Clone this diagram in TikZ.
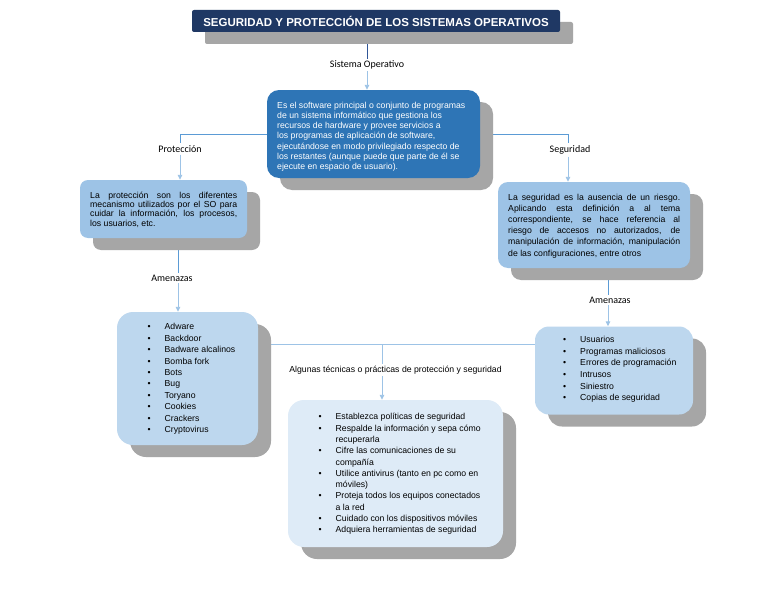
\documentclass[tikz,border=0pt]{standalone}
\usepackage{fontspec}
\setmainfont{Liberation Sans}
\newfontfamily\lblfont{Carlito}
\usetikzlibrary{arrows.meta,shadows,backgrounds}
\definecolor{navy}{HTML}{1F3864}
\definecolor{mainblue}{HTML}{2E75B6}
\definecolor{midblue}{HTML}{9DC3E6}
\definecolor{paleblue}{HTML}{BDD7EE}
\definecolor{palerblue}{HTML}{DEEBF7}
\definecolor{shadowgray}{HTML}{A6A6A6}
\definecolor{linedark}{HTML}{2F5597}
\definecolor{linemid}{HTML}{5B9BD5}
\definecolor{linelight}{HTML}{9DC3E6}
\newcommand\bl{\makebox[17pt][l]{\textbullet}}
\newcommand\ind{\hspace*{17pt}}
\begin{document}
\begin{tikzpicture}[x=1pt,y=-1pt,
  shadowed/.style={drop shadow={shadow xshift=13pt, shadow yshift=-12pt, fill=shadowgray, opacity=1}},
  boxshape/.style={inner sep=0pt, shadowed},
  titlebox/.style={boxshape, fill=navy, text=white, rounded corners=2pt,
     font=\bfseries\fontsize{11.5}{13}\selectfont},
  lbl/.style={font=\lblfont\fontsize{10}{12}\selectfont, inner sep=2pt},
  body/.style={inner sep=0pt, anchor=north west},
  conn/.style={line width=0.9pt},
  arr/.style={line width=0.9pt, draw=linelight, -{Triangle[length=5pt,width=4.5pt]}}
]
% nodes
\node[titlebox, minimum width=368pt, minimum height=22pt] (title) at (376,21)
  {SEGURIDAD Y PROTECCIÓN DE LOS SISTEMAS OPERATIVOS};
\node[lbl] (so) at (367,65) {Sistema Operativo};
\node[boxshape, fill=mainblue, rounded corners=12pt, minimum width=213pt, minimum height=88pt] (main) at (373.5,134) {};
\node[body, text=white, align=left, font=\fontsize{8.7}{10.3}\selectfont] (maintext) at (277,101.5)
  {Es el software principal o conjunto de programas\\
   de un sistema informático que gestiona los\\
   recursos de hardware y provee servicios a\\
   los programas de aplicación de software,\\
   ejecutándose en modo privilegiado respecto de\\
   los restantes (aunque puede que parte de él se\\
   ejecute en espacio de usuario).};

\node[lbl] (prot) at (180,149) {Protección};
\node[boxshape, fill=midblue, rounded corners=8pt, minimum width=167pt, minimum height=58pt] (protbox) at (163.5,209) {};
\node[body, text width=147pt, align=justify, font=\fontsize{8.7}{9.4}\selectfont] (prottext) at (90,191.5)
  {La protección son los diferentes\linebreak mecanismo utilizados por el SO para\linebreak cuidar la información, los procesos,\linebreak los usuarios, etc.};

\node[lbl] (seg) at (570,150) {Seguridad};
\node[boxshape, fill=midblue, rounded corners=10pt, minimum width=192pt, minimum height=86pt] (segbox) at (594,225) {};
\node[body, text width=172pt, align=justify, font=\fontsize{8.7}{11.1}\selectfont] (segtext) at (508,194)
  {La seguridad es la ausencia de un riesgo.\linebreak Aplicando esta definición a al tema\linebreak correspondiente, se hace referencia al\linebreak riesgo de accesos no autorizados, de\linebreak manipulación de información, manipulación\linebreak de las configuraciones, entre otros};

\coordinate (cs) at (568,150);
\coordinate (cl) at (178,250);
\coordinate (cr) at (608,280);
\coordinate (h) at (382,344);

\node[lbl] (amen1) at (172,278) {Amenazas};
\node[boxshape, fill=paleblue, rounded corners=16pt, minimum width=141pt, minimum height=133pt] (list1) at (187.5,378.5) {};
\node[body, align=left, font=\fontsize{8.7}{11.44}\selectfont] (list1text) at (147.5,323.2)
  {\bl Adware\\ \bl Backdoor\\ \bl Badware alcalinos\\ \bl Bomba fork\\ \bl Bots\\
   \bl Bug\\ \bl Toryano\\ \bl Cookies\\ \bl Crackers\\ \bl Cryptovirus};

\node[lbl] (amen2) at (610,300) {Amenazas};
\node[boxshape, fill=paleblue, rounded corners=14pt, minimum width=158pt, minimum height=88pt] (list2) at (614,370.5) {};
\node[body, align=left, font=\fontsize{8.7}{11.6}\selectfont] (list2text) at (563,336.2)
  {\bl Usuarios\\ \bl Programas maliciosos\\ \bl Errores de programación\\ \bl Intrusos\\
   \bl Siniestro\\ \bl Copias de seguridad};

\node[inner sep=2pt, font=\fontsize{8.7}{10}\selectfont] (tec) at (395.5,370)
  {Algunas técnicas o prácticas de protección y seguridad};
\node[boxshape, fill=palerblue, rounded corners=16pt, minimum width=215pt, minimum height=147pt] (list3) at (395.5,473.5) {};
\node[body, align=left, font=\fontsize{8.7}{11.3}\selectfont] (list3text) at (318.5,413.2)
  {\bl Establezca políticas de seguridad\\
   \bl Respalde la información y sepa cómo\\ \ind recuperarla\\
   \bl Cifre las comunicaciones de su\\ \ind compañía\\
   \bl Utilice antivirus (tanto en pc como en\\ \ind móviles)\\
   \bl Proteja todos los equipos conectados\\ \ind a la red\\
   \bl Cuidado con los dispositivos móviles\\
   \bl Adquiera herramientas de seguridad};

% connectors
\begin{pgfonlayer}{background}
\fill[white] (0,0) rectangle (768,594);
\useasboundingbox (0,0) rectangle (768,594);
\draw[conn, draw=linedark] (title.south -| so) -- (so.north);
\draw[arr] (so.south) -- (so.south |- main.north);
\draw[conn, draw=linemid] (main.west) -| (prot.north);
\draw[arr] (prot.south) -- (prot.south |- protbox.north);
\draw[conn, draw=linemid] (main.east) -| (seg.north -| cs);
\draw[arr] (seg.south -| cs) -- (cs |- segbox.north);
\draw[conn, draw=linemid] (cl |- protbox.south) -- (cl |- amen1.north);
\draw[arr] (cl |- amen1.south) -- (cl |- list1.north);
\draw[conn, draw=linemid] (cr |- segbox.south) -- (cr |- amen2.north);
\draw[arr] (cr |- amen2.south) -- (cr |- list2.north);
\draw[line width=0.7pt, draw=linelight] (list1.east |- h) -- (list2.west |- h);
\draw[line width=0.7pt, draw=linelight] (h) -- (h |- tec.north);
\draw[arr] (h |- tec.south) -- (h |- list3.north);
\end{pgfonlayer}
\end{tikzpicture}
\end{document}
